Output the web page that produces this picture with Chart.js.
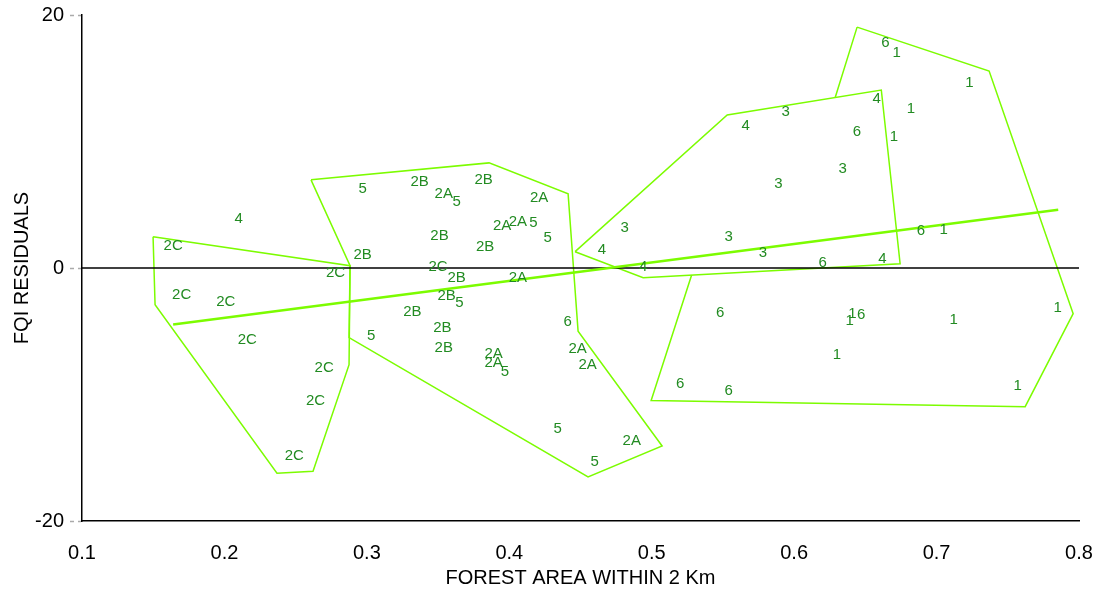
<!DOCTYPE html>
<html>
<head>
<meta charset="utf-8">
<script src="https://cdn.jsdelivr.net/npm/chart.js@4.4.0/dist/chart.umd.min.js"></script>
<style>
  html, body { margin: 0; padding: 0; background: #fff; }
  #wrap { width: 1099px; height: 590px; position: relative; }
</style>
</head>
<body>
<div id="wrap"><canvas id="c" width="1099" height="590"></canvas></div>
<script>
// ---- tick labels ----
const xTickValues = [0.1, 0.2, 0.3, 0.4, 0.5, 0.6, 0.7, 0.8];
const xTickLabels = ['0.1', '0.2', '0.3', '0.4', '0.5', '0.6', '0.7', '0.8'];
const yTickValues = [-20, 0, 20];
const yTickLabels = ['-20', '0', '20'];

// ---- point labels (forest area, FQI residual) per group ----
const g2C_x = [0.164, 0.170, 0.201, 0.216, 0.278, 0.270, 0.264, 0.249, 0.350];
const g2C_y = [1.76, -2.15, -2.66, -5.66, -0.37, -7.87, -10.47, -14.89, 0.10];

const g2B_x = [0.337, 0.382, 0.351, 0.383, 0.297, 0.363, 0.356, 0.332, 0.353, 0.354];
const g2B_y = [6.81, 6.97, 2.55, 1.68, 1.05, -0.76, -2.18, -3.45, -4.71, -6.29];

const g2A_x = [0.354, 0.421, 0.395, 0.406, 0.406, 0.389, 0.389, 0.448, 0.455, 0.486];
const g2A_y = [5.86, 5.55, 3.34, 3.65, -0.76, -6.76, -7.47, -6.37, -7.63, -13.63];

const g5_x = [0.297, 0.363, 0.417, 0.427, 0.365, 0.303, 0.397, 0.434, 0.460];
const g5_y = [6.26, 5.23, 3.58, 2.39, -2.74, -5.34, -8.18, -12.68, -15.29];

const g4_x = [0.210, 0.566, 0.658, 0.465, 0.494, 0.662];
const g4_y = [3.89, 11.23, 13.36, 1.44, 0.10, 0.73];

const g3_x = [0.594, 0.589, 0.634, 0.481, 0.554, 0.578];
const g3_y = [12.34, 6.65, 7.83, 3.18, 2.47, 1.21];

const g6_x = [0.441, 0.664, 0.644, 0.689, 0.620, 0.548, 0.647, 0.520, 0.554];
const g6_y = [-4.24, 17.78, 10.76, 2.94, 0.42, -3.53, -3.69, -9.13, -9.68];

const g1_x = [0.672, 0.723, 0.682, 0.670, 0.705, 0.639, 0.641, 0.712, 0.785, 0.630, 0.757];
const g1_y = [17.04, 14.60, 12.55, 10.33, 3.02, -4.16, -3.61, -4.08, -3.13, -6.84, -9.30];

// ---- group outlines ----
const polyA_x = [0.1499, 0.2882, 0.2875, 0.2622, 0.2369, 0.1513];
const polyA_y = [2.47, 0.18, -7.64, -16.07, -16.23, -2.90];

const polyB_x = [0.2608, 0.3858, 0.4413, 0.4483, 0.5073, 0.4553, 0.2875, 0.2882];
const polyB_y = [6.97, 8.31, 5.86, -4.99, -14.07, -16.51, -5.50, 0.18];

const polyC_x = [0.4462, 0.5530, 0.6612, 0.6744, 0.4940];
const polyC_y = [1.29, 12.10, 14.07, 0.34, -0.77];

const polyD_x = [0.6442, 0.7369, 0.7959, 0.7622, 0.4996, 0.5333, 0.6239];
const polyD_y = [19.04, 15.57, -3.61, -10.96, -10.47, 1.29, 11.70];

// ---- regression line and zero reference ----
const reg_x = [0.164, 0.7854];
const reg_y = [-4.47, 4.60];
const zero_x = [0.1, 0.8];
const zero_y = [0, 0];

// ---- helpers ----
const pts = (xs, ys) => xs.map((x, i) => ({ x: x, y: ys[i] }));
const closed = (xs, ys) => { const p = pts(xs, ys); p.push(p[0]); return p; };

const POLY = 'rgb(124,252,0)';
const TXT = 'rgb(34,139,34)';
const FONT = "'Liberation Sans', Arial, sans-serif";

const labelGroups = [
  { text: '2C', x: g2C_x, y: g2C_y },
  { text: '2B', x: g2B_x, y: g2B_y },
  { text: '2A', x: g2A_x, y: g2A_y },
  { text: '5', x: g5_x, y: g5_y },
  { text: '4', x: g4_x, y: g4_y },
  { text: '3', x: g3_x, y: g3_y },
  { text: '6', x: g6_x, y: g6_y },
  { text: '1', x: g1_x, y: g1_y }
];

const polyDs = (xs, ys, order, filled) => ({
  data: closed(xs, ys),
  showLine: true,
  borderColor: POLY,
  borderWidth: 1.5,
  pointRadius: 0,
  tension: 0,
  fill: filled ? 'shape' : false,
  backgroundColor: '#ffffff',
  order: order
});

const datasets = [
  polyDs(polyD_x, polyD_y, 10, true),
  polyDs(polyC_x, polyC_y, 9, true),
  polyDs(polyB_x, polyB_y, 8, false),
  polyDs(polyA_x, polyA_y, 7, false),
  { data: pts(zero_x, zero_y), showLine: true, borderColor: '#000', borderWidth: 1.3,
    pointRadius: 0, order: 3, fill: false, clip: false },
  { data: pts(reg_x, reg_y), showLine: true, borderColor: POLY, borderWidth: 2.6,
    pointRadius: 0, order: 2, fill: false }
];
labelGroups.forEach(g => {
  datasets.push({ data: pts(g.x, g.y), pointRadius: 0, showLine: false, order: 1, labelText: g.text });
});

const textLabels = {
  id: 'textLabels',
  afterDatasetsDraw(chart) {
    const ctx = chart.ctx;
    ctx.save();
    ctx.fillStyle = TXT;
    ctx.font = '15px ' + FONT;
    ctx.textAlign = 'center';
    ctx.textBaseline = 'middle';
    chart.data.datasets.forEach((ds, i) => {
      if (!ds.labelText) return;
      const meta = chart.getDatasetMeta(i);
      meta.data.forEach(el => ctx.fillText(ds.labelText, el.x, el.y));
    });
    ctx.restore();
  }
};

new Chart(document.getElementById('c'), {
  type: 'scatter',
  data: { datasets: datasets },
  plugins: [textLabels],
  options: {
    responsive: false,
    animation: false,
    events: [],
    layout: { padding: { left: 10, right: 0, top: 0, bottom: 0 } },
    plugins: { legend: { display: false }, tooltip: { enabled: false } },
    scales: {
      x: {
        type: 'linear',
        min: 0.1, max: 0.8,
        afterBuildTicks: s => { s.ticks = xTickValues.map(v => ({ value: v })); },
        afterFit: s => { s.height = 69; s.paddingLeft = 0; s.paddingRight = 20; },
        ticks: {
          callback: (v, i) => xTickLabels[i],
          color: '#000', font: { family: FONT, size: 20 }, padding: 20, maxRotation: 0
        },
        grid: { drawOnChartArea: false, drawTicks: false },
        border: { display: true, color: '#000', width: 1.5 },
        title: { display: true, text: 'FOREST AREA WITHIN 2 Km', color: '#000',
                 font: { family: FONT, size: 20 }, padding: 0 }
      },
      y: {
        type: 'linear',
        min: -20, max: 20,
        afterBuildTicks: s => { s.ticks = yTickValues.map(v => ({ value: v })); },
        afterFit: s => { s.width = 72; s.paddingTop = 15; s.paddingBottom = 0; },
        ticks: {
          callback: (v, i) => yTickLabels[i],
          color: '#000', font: { family: FONT, size: 20 }, padding: 6
        },
        grid: { drawOnChartArea: false, drawTicks: true, tickLength: 12,
                tickColor: '#aaaaaa', tickBorderDash: [4, 4], tickWidth: 1.5 },
        border: { display: true, color: '#000', width: 1.5 },
        title: { display: true, text: 'FQI RESIDUALS', color: '#000',
                 font: { family: FONT, size: 20 }, padding: 0 }
      }
    }
  }
});
</script>
</body>
</html>
